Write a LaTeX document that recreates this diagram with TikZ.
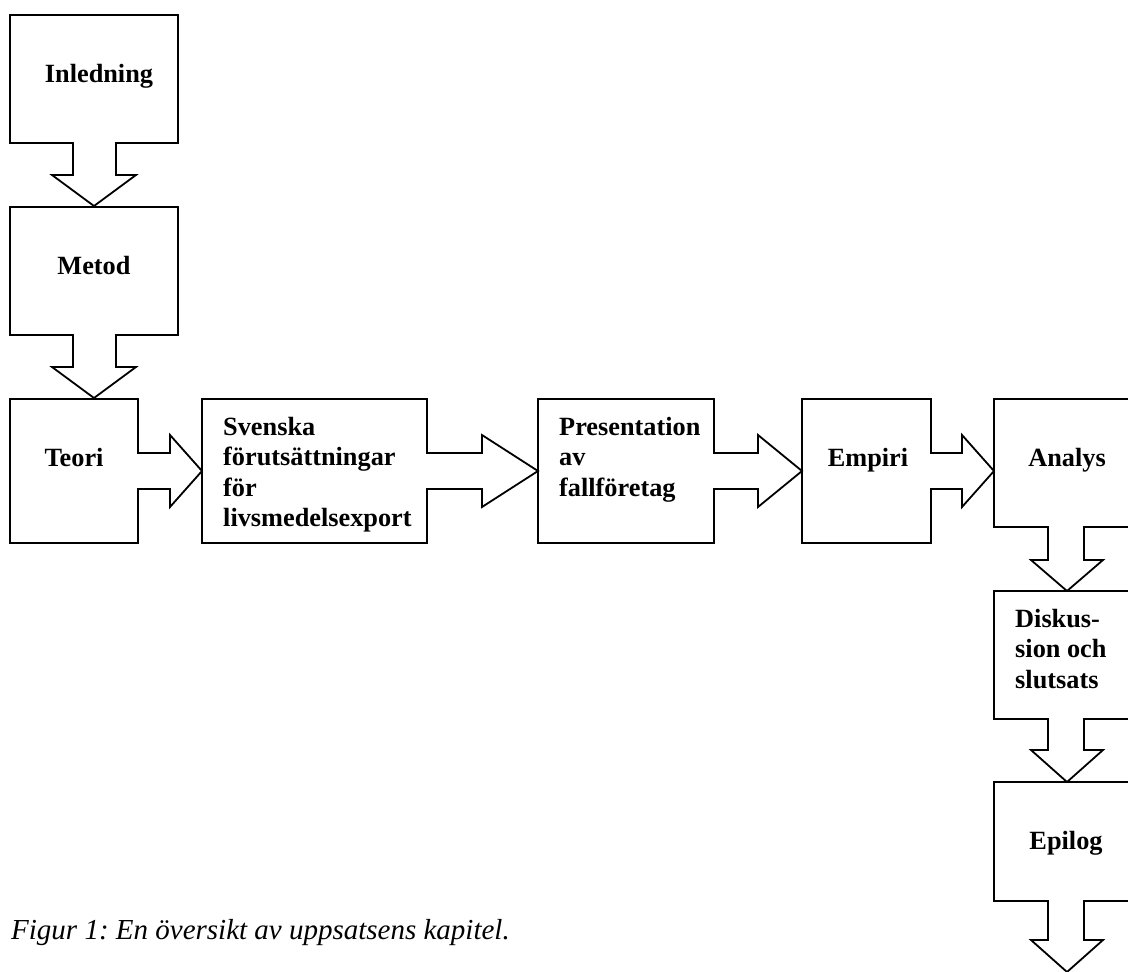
\documentclass[tikz,border=0pt]{standalone}
\usepackage{fontspec}
\setmainfont{Liberation Serif}
\frenchspacing
\begin{document}
\begin{tikzpicture}[x=1pt,y=-1pt,
  callout/.style={draw=black, line width=1.8pt, line join=miter},
  lbl/.style={inner sep=0pt, font=\bfseries\fontsize{26.3}{30.5}\selectfont},
  multi/.style={lbl, anchor=base west},
  single/.style={lbl, anchor=base},
  captxt/.style={inner sep=0pt, anchor=base west, font=\itshape\fontsize{29}{33}\selectfont}]
\useasboundingbox (0,0) rectangle (1128,972);
\clip (0,0) rectangle (1128,972);

% chapter boxes with their outgoing block arrows
% Inledning (down)
\draw[callout] (10,15) -- (178,15) -- (178,143) -- (116,143) -- (116,175) -- (136,175)
  -- (94,206) -- (52,175) -- (73,175) -- (73,143) -- (10,143) -- cycle;
% Metod (down)
\draw[callout] (10,207) -- (178,207) -- (178,335) -- (116,335) -- (116,367) -- (136,367)
  -- (94,398) -- (52,367) -- (73,367) -- (73,335) -- (10,335) -- cycle;
% Teori (right)
\draw[callout] (10,399) -- (138,399) -- (138,453) -- (170,453) -- (170,435)
  -- (202,471) -- (170,507) -- (170,489) -- (138,489) -- (138,543) -- (10,543) -- cycle;
% Svenska foerutsaettningar (right)
\draw[callout] (202,399) -- (427,399) -- (427,453) -- (482,453) -- (482,435)
  -- (538,471) -- (482,507) -- (482,489) -- (427,489) -- (427,543) -- (202,543) -- cycle;
% Presentation (right)
\draw[callout] (538,399) -- (714,399) -- (714,453) -- (758,453) -- (758,435)
  -- (802,471) -- (758,507) -- (758,489) -- (714,489) -- (714,543) -- (538,543) -- cycle;
% Empiri (right)
\draw[callout] (802,399) -- (931,399) -- (931,453) -- (962,453) -- (962,435)
  -- (994,471) -- (962,507) -- (962,489) -- (931,489) -- (931,543) -- (802,543) -- cycle;
% Analys (down)
\draw[callout] (994,399) -- (1140,399) -- (1140,527) -- (1084,527) -- (1084,560) -- (1103,560)
  -- (1067,591) -- (1031,560) -- (1048,560) -- (1048,527) -- (994,527) -- cycle;
% Diskussion (down)
\draw[callout] (994,591) -- (1140,591) -- (1140,719) -- (1084,719) -- (1084,750) -- (1103,750)
  -- (1067,782) -- (1031,750) -- (1048,750) -- (1048,719) -- (994,719) -- cycle;
% Epilog (down)
\draw[callout] (994,782) -- (1140,782) -- (1140,901) -- (1084,901) -- (1084,940) -- (1103,940)
  -- (1067,972) -- (1031,940) -- (1048,940) -- (1048,901) -- (994,901) -- cycle;

% labels
\node[single] (inl) at (99,82) {Inledning};
\node[single] (met) at (94,274) {Metod};
\node[single] (teo) at (74,466) {Teori};
\node[multi] (sve) at (223,435) {\parbox[t]{200pt}{\raggedright Svenska\\förutsättningar\\för\\livsmedelsexport}};
\node[multi] (pre) at (559,435) {\parbox[t]{160pt}{\raggedright Presentation\\av\\fallföretag}};
\node[single] (emp) at (868,466) {Empiri};
\node[single] (ana) at (1067,466) {Analys};
\node[multi] (dis) at (1015,627) {\parbox[t]{120pt}{\raggedright Diskus-\\sion och\\slutsats}};
\node[single] (epi) at (1066,849) {Epilog};

% caption
\node[captxt] (cap) at (11,939) {Figur 1: En översikt av uppsatsens kapitel.};
\end{tikzpicture}
\end{document}
